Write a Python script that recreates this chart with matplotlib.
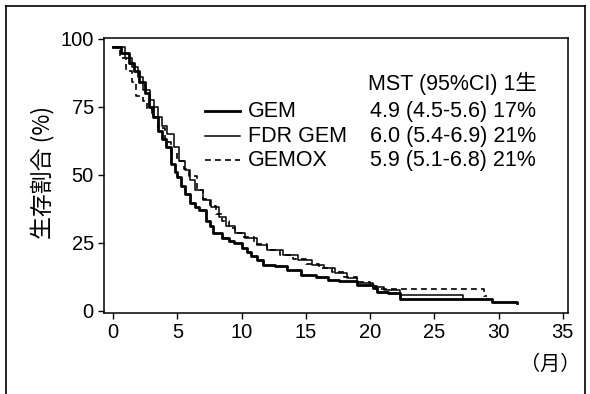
import matplotlib
matplotlib.use("Agg")
import matplotlib.pyplot as plt
from matplotlib.lines import Line2D

plt.rcParams['font.family'] = ['Liberation Sans', 'Noto Sans CJK JP']

# ---- data ----
gem_t = [0, 0.6, 1.2, 1.6, 2.0, 2.5, 2.8, 3.1, 3.5, 3.8, 4.1, 4.5, 4.8, 5.0, 5.3, 5.6, 6.0,
         6.4, 6.7, 7.2, 7.5, 7.8, 8.5, 9.0, 9.4, 10.0, 10.4, 10.7, 11.2, 11.7, 12.6, 13.5,
         14.6, 15.8, 16.7, 17.6, 19.0, 20.2, 20.5, 21.4, 22.3, 29.5, 31.4]
gem_s = [97, 94.5, 91, 88, 84, 80, 75, 71, 66, 63, 60, 54, 51, 49, 46, 43, 39.5,
         38, 37, 33, 31, 28.5, 26.6, 25.5, 24.8, 23, 21.5, 20, 18.5, 17, 16.3, 15,
         13.2, 12.3, 11.4, 10.8, 9.5, 8.3, 7.1, 6.5, 4.2, 3.4, 3.0]

fdr_t = [0, 0.9, 1.5, 1.9, 2.3, 2.9, 3.2, 3.5, 3.8, 4.2, 4.7, 5.1, 5.6, 6.0, 6.4, 7.0,
         7.6, 8.2, 8.8, 9.5, 10.3, 11.2, 12.0, 13.2, 14.4, 15.5, 16.4, 17.3, 18.2, 19.0,
         20.2, 21.1, 22.3, 27.2, 27.3]
fdr_s = [97, 93, 89.6, 86, 81, 77.4, 75, 71, 68, 65, 60, 55, 51.7, 48, 44.4, 40.7,
         38.3, 34.6, 31, 28.5, 26.7, 24.2, 22.4, 20.5, 18.7, 16.9, 15.6, 13.8, 12, 10.1,
         8.9, 7.7, 5.9, 4.3, 4.3]

gemox_t = [0, 0.5, 1.0, 1.5, 1.8, 2.3, 2.6, 3.0, 3.5, 4.0, 4.5, 5.0, 5.5, 5.9, 6.5, 7.0,
           7.5, 8.0, 8.5, 9.0, 9.5, 10.0, 11.0, 12.0, 13.0, 14.0, 15.0, 16.0, 17.0, 18.0,
           19.0, 20.0, 20.5, 28.9, 29.1]
gemox_s = [97, 93, 88, 84, 79, 77, 74, 71, 67, 62, 58, 55, 52, 49.5, 44.5, 41,
           38.5, 35.5, 33, 30.5, 28.5, 27, 24.5, 22.5, 20.5, 19, 17.2, 15.8, 14.2, 12.5,
           10.5, 9.2, 8.0, 5.3, 5.3]

names = ["GEM", "FDR GEM", "GEMOX"]
stats = ["4.9 (4.5-5.6) 17%", "6.0 (5.4-6.9) 21%", "5.9 (5.1-6.8) 21%"]
header = "MST (95%CI) 1生"
xticks = [0, 5, 10, 15, 20, 25, 30, 35]
yticks = [0, 25, 50, 75, 100]

# ---- figure ----
W, H = 590, 394
fig = plt.figure(figsize=(5.9, 3.94), dpi=100)
ax = fig.add_axes([103.5/W, 1-313.3/H, (568-103.5)/W, (313.3-37.7)/H])

styles = [dict(color='black', lw=2.0, ls='-'),
          dict(color='black', lw=1.1, ls='-'),
          dict(color='black', lw=1.2, ls=(0, (3.5, 2.5)))]
series = [(gem_t, gem_s), (fdr_t, fdr_s), (gemox_t, gemox_s)]
for (t, s), st in zip(series, styles):
    ax.plot(t, s, drawstyle='steps-post', **st)

ax.set_xlim(-0.75, 35.4)
ax.set_ylim(-0.9, 100.3)
ax.set_xticks(xticks)
ax.set_yticks(yticks)
ax.tick_params(direction='out', length=4, width=1, labelsize=14.5, pad=3)
for sp in ax.spines.values():
    sp.set_linewidth(1.1)

fig.text(43/W, 1-172.5/H, "生存割合 (%)", rotation=90, ha='center', va='center',
         fontsize=16.5, family=['Noto Sans CJK JP'])
fig.text(550/W, 1-364/H, "（月）", ha='center', va='center', fontsize=14.5,
         family=['Noto Sans CJK JP'])

# legend table
fs = 15.5
fig.text(368/W, 1-90/H, header, ha='left', va='baseline', fontsize=fs)
rows_base = [117, 141.5, 166]
for name, stat, st, yb in zip(names, stats, styles, rows_base):
    fy = 1 - (yb - 6)/H
    fig.add_artist(Line2D([205/W, 240/W], [fy, fy], transform=fig.transFigure, **st))
    fig.text(248/W, 1-yb/H, name, ha='left', va='baseline', fontsize=fs)
    fig.text(370/W, 1-yb/H, stat, ha='left', va='baseline', fontsize=fs)

# outer frame
for xs, ys in [([6/W, 6/W], [0, 1-6/H]),
               ([6/W, 585/W], [1-6/H, 1-6/H]),
               ([585/W, 585/W], [1-6/H, 0])]:
    fig.add_artist(Line2D(xs, ys, transform=fig.transFigure, color='black', lw=1.2))

fig.savefig("out.png", dpi=100)
